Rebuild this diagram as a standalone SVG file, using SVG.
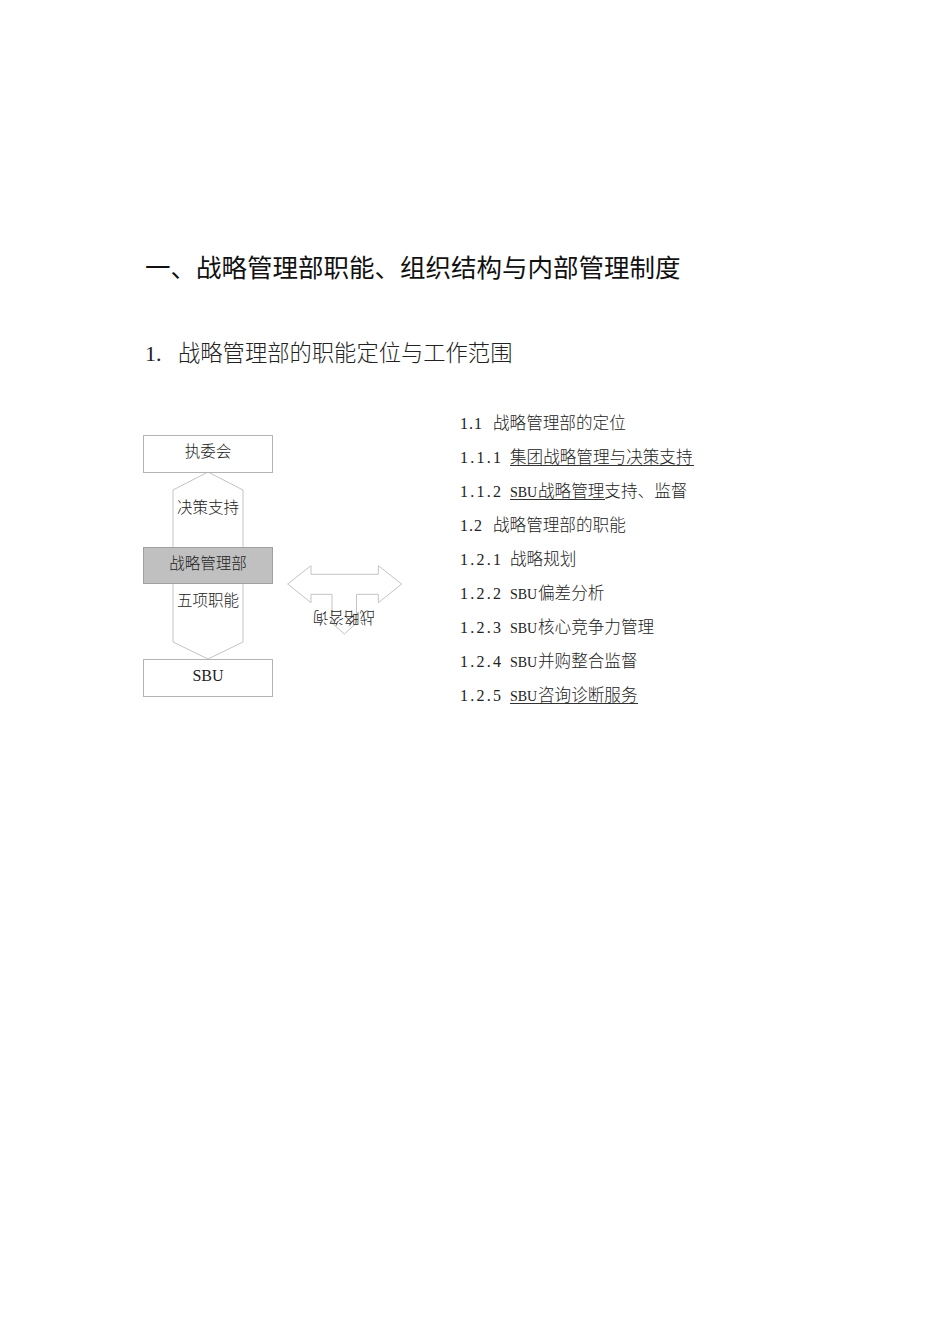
<svg xmlns="http://www.w3.org/2000/svg" width="950" height="1344" viewBox="0 0 950 1344">
<style>
.title{font-family:"Noto Sans CJK SC","Noto Sans",sans-serif;font-size:25.5px;font-weight:400;fill:#111}
.sub{font-family:"Noto Sans CJK SC","Noto Sans",sans-serif;font-size:22.3px;font-weight:300;fill:#222}
.num{font-family:"Liberation Serif","Noto Sans CJK SC",serif;fill:#222}
.li{font-family:"Noto Sans CJK SC","Noto Sans",sans-serif;font-size:16.6px;font-weight:300;fill:#222}
.sbu{font-family:"Liberation Serif",serif;font-size:14px;font-weight:400}
.lbl{font-family:"Noto Sans CJK SC","Noto Sans",sans-serif;font-size:15.5px;font-weight:300;fill:#222;text-anchor:middle}
.box{fill:#fff;stroke:#b4b4b4;stroke-width:1}
.gbox{fill:#c0c0c0;stroke:#a0a0a0;stroke-width:1}
.arr{fill:none;stroke:#c4c4c4;stroke-width:1}
.ul{stroke:#333;stroke-width:1}
</style>
<rect width="950" height="1344" fill="#fff"/>
<text class="title" x="145" y="277">一、战略管理部职能、组织结构与内部管理制度</text>
<text class="num" x="145" y="361" font-size="22">1.</text>
<text class="sub" x="178" y="361">战略管理部的职能定位与工作范围</text>

<g id="connectors">
<polyline class="arr" points="173,547 173,490 208,472 243,490 243,547"/>
<polyline class="arr" points="173,584 173,642 208,659 243,642 243,584"/>
<polygon class="arr" points="287.7,584 311,565.7 311,574.3 378.3,574.3 378.3,565.7 401.7,584 378.3,602.7 378.3,594.3 356.5,594.3 356.5,623 344.3,634 332,623 332,594.3 311,594.3 311,602.7"/>
</g>

<g id="node-zhiweihui">
<rect class="box" x="143.5" y="435.5" width="129" height="37"/>
<text class="lbl" x="208" y="457">执委会</text>
</g>
<g id="label-juece">
<text class="lbl" x="208" y="513">决策支持</text>
</g>
<g id="node-zhanlue">
<rect class="gbox" x="143.5" y="547.5" width="129" height="36"/>
<text class="lbl" x="208" y="569">战略管理部</text>
</g>
<g id="label-wuxiang">
<text class="lbl" x="208" y="606">五项职能</text>
</g>
<g id="node-sbu">
<rect class="box" x="143.5" y="659.5" width="129" height="37"/>
<text x="208" y="681" font-family="Liberation Serif,serif" font-size="16" fill="#222" text-anchor="middle">SBU</text>
</g>
<g id="label-zixun">
<text class="lbl" transform="translate(344,618) rotate(180)" x="0" y="5.8">战略咨询</text>
</g>

<g id="list">
<text class="num" x="460" y="429" font-size="16" textLength="22" lengthAdjust="spacing">1.1</text>
<text class="li" x="493" y="429">战略管理部的定位</text>

<text class="num" x="460" y="463" font-size="16" textLength="41" lengthAdjust="spacing">1.1.1</text>
<text class="li" x="510" y="463">集团战略管理与决策支持</text>
<line class="ul" x1="510" y1="465.5" x2="694" y2="465.5"/>

<text class="num" x="460" y="497" font-size="16" textLength="41" lengthAdjust="spacing">1.1.2</text>
<text class="li" x="510" y="497"><tspan class="sbu">SBU</tspan><tspan x="538">战略管理支持、监督</tspan></text>
<line class="ul" x1="510" y1="499.5" x2="605" y2="499.5"/>

<text class="num" x="460" y="531" font-size="16" textLength="22" lengthAdjust="spacing">1.2</text>
<text class="li" x="493" y="531">战略管理部的职能</text>

<text class="num" x="460" y="565" font-size="16" textLength="41" lengthAdjust="spacing">1.2.1</text>
<text class="li" x="510" y="565">战略规划</text>

<text class="num" x="460" y="599" font-size="16" textLength="41" lengthAdjust="spacing">1.2.2</text>
<text class="li" x="510" y="599"><tspan class="sbu">SBU</tspan><tspan x="538">偏差分析</tspan></text>

<text class="num" x="460" y="633" font-size="16" textLength="41" lengthAdjust="spacing">1.2.3</text>
<text class="li" x="510" y="633"><tspan class="sbu">SBU</tspan><tspan x="538">核心竞争力管理</tspan></text>

<text class="num" x="460" y="667" font-size="16" textLength="41" lengthAdjust="spacing">1.2.4</text>
<text class="li" x="510" y="667"><tspan class="sbu">SBU</tspan><tspan x="538">并购整合监督</tspan></text>

<text class="num" x="460" y="701" font-size="16" textLength="41" lengthAdjust="spacing">1.2.5</text>
<text class="li" x="510" y="701"><tspan class="sbu">SBU</tspan><tspan x="538">咨询诊断服务</tspan></text>
<line class="ul" x1="510" y1="703.5" x2="638" y2="703.5"/>
</g>
</svg>
